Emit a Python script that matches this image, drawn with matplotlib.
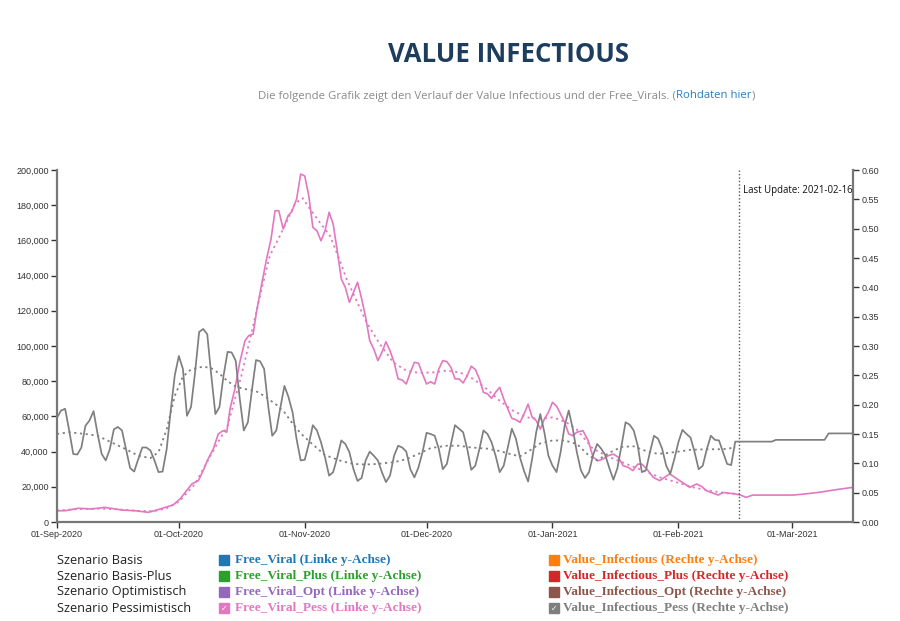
"""Value Infectious / Free_Viral chart (Szenario Pessimistisch)."""

import matplotlib

matplotlib.use("Agg")

import matplotlib.dates as mdates
import matplotlib.pyplot as plt
import pandas as pd
from matplotlib.ticker import FuncFormatter, MultipleLocator

START = pd.Timestamp("2020-09-01")
END = pd.Timestamp("2021-03-16")
LAST_UPDATE = pd.Timestamp("2021-02-16")

# Value_Infectious_Pess (right axis), one value per day from 01-Sep-2020
value_inf_pess = [
    0.178, 0.190, 0.193, 0.156, 0.116, 0.115, 0.127, 0.164, 0.173, 0.189,
    0.150, 0.116, 0.105, 0.124, 0.158, 0.162, 0.156, 0.124, 0.092, 0.086,
    0.107, 0.127, 0.127, 0.122, 0.105, 0.085, 0.086, 0.124, 0.190, 0.250,
    0.283, 0.261, 0.181, 0.196, 0.255, 0.324, 0.329, 0.320, 0.249, 0.184,
    0.196, 0.249, 0.290, 0.289, 0.275, 0.210, 0.156, 0.170, 0.225, 0.276,
    0.274, 0.261, 0.198, 0.147, 0.156, 0.195, 0.232, 0.213, 0.187, 0.141,
    0.105, 0.106, 0.133, 0.165, 0.156, 0.136, 0.110, 0.079, 0.085, 0.110,
    0.139, 0.133, 0.119, 0.090, 0.070, 0.075, 0.105, 0.120, 0.113, 0.105,
    0.085, 0.068, 0.079, 0.113, 0.130, 0.127, 0.120, 0.090, 0.076, 0.093,
    0.119, 0.152, 0.150, 0.147, 0.125, 0.090, 0.099, 0.133, 0.165, 0.159,
    0.153, 0.125, 0.089, 0.096, 0.124, 0.156, 0.150, 0.136, 0.113, 0.085,
    0.096, 0.127, 0.159, 0.142, 0.110, 0.087, 0.069, 0.108, 0.153, 0.184,
    0.153, 0.113, 0.096, 0.085, 0.119, 0.164, 0.190, 0.159, 0.119, 0.088,
    0.075, 0.085, 0.114, 0.133, 0.125, 0.114, 0.092, 0.072, 0.092, 0.130,
    0.170, 0.166, 0.156, 0.130, 0.085, 0.088, 0.119, 0.147, 0.142, 0.125,
    0.096, 0.082, 0.107, 0.136, 0.157, 0.150, 0.144, 0.119, 0.090, 0.096,
    0.124, 0.147, 0.140, 0.139, 0.119, 0.099, 0.097, 0.137, 0.137, 0.137,
    0.137, 0.137, 0.137, 0.137, 0.137, 0.137, 0.137, 0.140, 0.140, 0.140,
    0.140, 0.140, 0.140, 0.140, 0.140, 0.140, 0.140, 0.140, 0.140, 0.140,
    0.151, 0.151, 0.151, 0.151, 0.151, 0.151, 0.151,
]

# smoothed Value_Infectious_Pess (dotted), days after 01-Sep-2020
value_inf_smooth_days = [
    0, 3, 7, 10, 13, 17, 20, 23, 25, 27, 29, 31, 33, 36, 38, 40, 42, 44, 46, 49,
    51, 54, 56, 58, 60, 63, 66, 70, 73, 76, 79, 83, 86, 89, 92, 96, 99, 102, 106,
    109, 112, 114, 116, 119, 122, 125, 128, 131, 133, 136, 139, 142, 145, 148,
    152, 156, 160, 164, 167,
]
value_inf_smooth = [
    0.150, 0.153, 0.150, 0.147, 0.137, 0.124, 0.113, 0.109, 0.119, 0.158, 0.215,
    0.248, 0.260, 0.265, 0.262, 0.253, 0.240, 0.231, 0.227, 0.223, 0.215, 0.200,
    0.187, 0.168, 0.151, 0.132, 0.114, 0.104, 0.099, 0.098, 0.099, 0.102, 0.107,
    0.116, 0.126, 0.130, 0.130, 0.127, 0.125, 0.121, 0.115, 0.112, 0.120, 0.134,
    0.139, 0.139, 0.133, 0.113, 0.105, 0.118, 0.128, 0.129, 0.121, 0.116, 0.119,
    0.123, 0.124, 0.124, 0.127,
]

# Free_Viral_Pess (left axis)
free_viral_days = [
    0, 2, 5.2, 8.5, 11.8, 14.3, 16, 19.2, 22.5, 24, 26.6, 28.6, 30.3, 31.9, 33.2,
    34.8, 36, 37.2, 38.5, 39.7, 40.9, 41.8, 42.6, 43.8, 45, 46.3, 47.2, 48.3, 49.1,
    50.4, 51.6, 52.7, 53.7, 54.6, 55.7, 56.9, 57.8, 59, 60, 61, 62, 63, 64, 65,
    66, 67, 68, 69, 70, 71, 72, 73, 74, 75, 76, 77, 78, 79, 80, 81, 82, 83, 84,
    85, 86, 87, 88, 89, 90, 91, 92, 93, 94, 95, 96, 97, 98, 99, 100, 101, 102,
    103, 104, 105, 106, 107, 108, 109, 110, 111, 112, 113, 114, 115, 116, 117,
    118, 119, 120, 121, 122, 123, 124, 125, 126, 127, 128, 129.5, 130.8, 132,
    133.2, 134.5, 135.7, 137, 138.2, 139.4, 140.6, 141.8, 143, 144, 145.2, 146.8,
    148.4, 149.6, 150.9, 152.1, 153.3, 154.6, 155.8, 157.5, 158.7, 159.9, 161.5,
    162.8, 164, 165.2, 166.6, 168.3, 169.7, 171.3, 175, 181.2, 184.5, 187.8,
    191.9, 196,
]
free_viral_pess = [
    6400, 6400, 7800, 7400, 8300, 7400, 6800, 6400, 5500, 6400, 8300, 9700,
    13100, 17800, 21600, 23500, 29200, 35800, 41500, 50000, 51900, 51000, 64200,
    75600, 90700, 103000, 105900, 106800, 119100, 135200, 149400, 160800, 176900,
    176900, 166500, 174000, 176300, 183500, 197700, 196600, 185400, 167400,
    165500, 159800, 165500, 176000, 169300, 154200, 138100, 133300, 124800,
    130500, 136200, 127000, 116300, 103000, 98300, 91700, 96400, 102400, 97300,
    90700, 81300, 80700, 78400, 85000, 90700, 90300, 84100, 78400, 79700, 78400,
    86900, 91700, 91100, 87900, 81300, 81300, 79000, 83100, 88500, 86700, 81300,
    73700, 72800, 70300, 73700, 76500, 69900, 64200, 58900, 58100, 56600, 61400,
    67000, 59500, 57600, 52800, 58500, 62300, 68000, 65800, 61400, 56600, 50000,
    49100, 51000, 51900, 46200, 36800, 34800, 35800, 37700, 38600, 36800, 32000,
    31100, 29200, 32900, 32900, 30200, 25400, 23500, 25400, 27300, 25400, 23500,
    21600, 19700, 21600, 20200, 17800, 16400, 15300, 16800, 16400, 16100, 15300,
    14000, 15300, 15300, 15300, 16000, 16900, 18400, 19700,
]

# smoothed Free_Viral_Pess (dotted)
free_viral_smooth_days = [
    0, 5, 10, 15, 20, 24, 27, 30, 34, 38, 42, 45.4, 48.3, 50.4, 52.4, 54.5, 56.5,
    58.6, 60.5, 62, 64.7, 67.2, 69.5, 71.3, 73.3, 76.2, 79.5, 82.8, 86, 89.3,
    92.6, 95.9, 99.2, 102.5, 105.8, 109, 112.3, 115.6, 118.9, 122.2, 125.4,
    127.9, 132, 136.1, 140.2, 144.3, 148.4, 152.5, 156.6, 160.7, 164.8, 168,
]
free_viral_smooth = [
    6500, 7300, 7600, 7200, 6300, 6200, 7800, 11500, 21600, 38600, 54700, 83100,
    111500, 132400, 151300, 160800, 170300, 181000, 184000, 178800, 170300,
    162700, 149400, 138100, 128000, 113500, 101100, 90700, 86000, 84700, 85000,
    86000, 85000, 81300, 75600, 68900, 63200, 59500, 58500, 59500, 56600, 52800,
    41500, 36800, 33000, 29200, 25400, 22600, 19700, 17800, 16300, 16000,
]

scenario_labels = [
    "Szenario Basis",
    "Szenario Basis-Plus",
    "Szenario Optimistisch",
    "Szenario Pessimistisch",
]
free_viral_labels = [
    "Free_Viral (Linke y-Achse)",
    "Free_Viral_Plus (Linke y-Achse)",
    "Free_Viral_Opt (Linke y-Achse)",
    "Free_Viral_Pess (Linke y-Achse)",
]
value_inf_labels = [
    "Value_Infectious (Rechte y-Achse)",
    "Value_Infectious_Plus (Rechte y-Achse)",
    "Value_Infectious_Opt (Rechte y-Achse)",
    "Value_Infectious_Pess (Rechte y-Achse)",
]
free_viral_colors = ["#1f77b4", "#2ca02c", "#9467bd", "#e377c2"]
value_inf_colors = ["#ff7f0e", "#d62728", "#8c564b", "#7f7f7f"]

AXIS_GREY = "#777777"
TICK_FONT = "Liberation Sans"
TEXT_FONT = ["Open Sans", "DejaVu Sans"]


def to_dates(days):
    """Tage ab 01-Sep-2020 in Zeitstempel umrechnen."""
    return START + pd.to_timedelta(pd.Series(days, dtype=float), unit="D")


def style_axis(ax):
    for side in ("left", "right", "bottom"):
        ax.spines[side].set_color(AXIS_GREY)
        ax.spines[side].set_linewidth(1.6)
    ax.spines["top"].set_visible(False)
    ax.tick_params(colors="#333333", width=1, length=4, labelsize=6.5, pad=2)
    for label in ax.get_xticklabels() + ax.get_yticklabels():
        label.set_fontfamily(TICK_FONT)


def draw_legend(fig):
    rows_y = [560, 576, 592, 608]
    W, H = 900, 621
    for i, y in enumerate(rows_y):
        fy = 1 - y / H
        fig.text(57 / W, fy, scenario_labels[i], fontsize=9.2, family=TEXT_FONT,
                 color="#222222", va="center", ha="left")
        for x_box, x_txt, label, color in (
            (224, 235, free_viral_labels[i], free_viral_colors[i]),
            (554, 563, value_inf_labels[i], value_inf_colors[i]),
        ):
            fig.lines.append(plt.Line2D([x_box / W], [fy], marker="s", markersize=6.5,
                                        color=color, transform=fig.transFigure))
            if i == 3:
                fig.text(x_box / W, fy, "\u2713", fontsize=5.5, color="white",
                         family="DejaVu Sans", fontweight="bold",
                         ha="center", va="center")
            fig.text(x_txt / W, fy, label, fontsize=9.5, family="Liberation Serif",
                     fontweight="bold", color=color, va="center", ha="left")


def main():
    fig = plt.figure(figsize=(9, 6.21), dpi=100)
    W, H = 900, 621

    fig.text(508 / W, 1 - 54 / H, "VALUE INFECTIOUS", fontsize=18.5, fontweight="bold",
             family=TEXT_FONT, color="#1c3d5e", ha="center", va="center")
    sub = fig.text(258 / W, 1 - 96 / H,
                   "Die folgende Grafik zeigt den Verlauf der Value Infectious und der Free_Virals. (",
                   fontsize=8.2, family=TEXT_FONT, color="#8a8a8a", ha="left", va="center")
    fig.canvas.draw()
    bb = sub.get_window_extent()
    link = fig.text(bb.x1 / W, 1 - 96 / H, "Rohdaten hier", fontsize=8.2, family=TEXT_FONT,
                    color="#2b7bbf", ha="left", va="center")
    bb2 = link.get_window_extent(renderer=fig.canvas.get_renderer())
    fig.text(bb2.x1 / W, 1 - 96 / H, ")", fontsize=8.2, family=TEXT_FONT,
             color="#8a8a8a", ha="left", va="center")

    ax = fig.add_axes([57 / W, 99 / H, 796 / W, 352 / H])
    ax2 = ax.twinx()

    days_all = list(range(len(value_inf_pess)))
    ax2.plot(to_dates(days_all), value_inf_pess, color="#7f7f7f", linewidth=1.25)
    ax2.plot(to_dates(value_inf_smooth_days), value_inf_smooth, color="#7f7f7f",
             linewidth=1.3, linestyle=(0, (1.2, 2.0)))
    ax.plot(to_dates(free_viral_days), free_viral_pess, color="#e377c2", linewidth=1.2)
    ax.plot(to_dates(free_viral_smooth_days), free_viral_smooth, color="#e377c2",
            linewidth=1.3, linestyle=(0, (1.2, 2.0)))

    ax.axvline(LAST_UPDATE, color="#555555", linewidth=1, linestyle=(0, (1, 1.5)))
    ax.text(LAST_UPDATE + pd.Timedelta(days=1), 0.943, "Last Update: 2021-02-16",
            transform=ax.get_xaxis_transform(), fontsize=6.9, family=TEXT_FONT,
            color="#111111", ha="left", va="center")

    ax.set_xlim(START, END)
    ax.set_ylim(0, 200000)
    ax2.set_ylim(0, 0.6)
    ax.yaxis.set_major_locator(MultipleLocator(20000))
    ax.yaxis.set_major_formatter(FuncFormatter(lambda v, _: f"{v:,.0f}"))
    ax2.yaxis.set_major_locator(MultipleLocator(0.05))
    ax2.yaxis.set_major_formatter(FuncFormatter(lambda v, _: f"{v:.2f}"))
    ax.xaxis.set_major_locator(mdates.MonthLocator(bymonthday=1))
    ax.xaxis.set_major_formatter(mdates.DateFormatter("%d-%b-%Y"))

    style_axis(ax)
    style_axis(ax2)
    ax2.spines["left"].set_visible(False)
    ax2.spines["bottom"].set_visible(False)
    ax.spines["right"].set_visible(False)

    draw_legend(fig)
    fig.savefig("out.png", dpi=100, facecolor="white")


if __name__ == "__main__":
    main()
